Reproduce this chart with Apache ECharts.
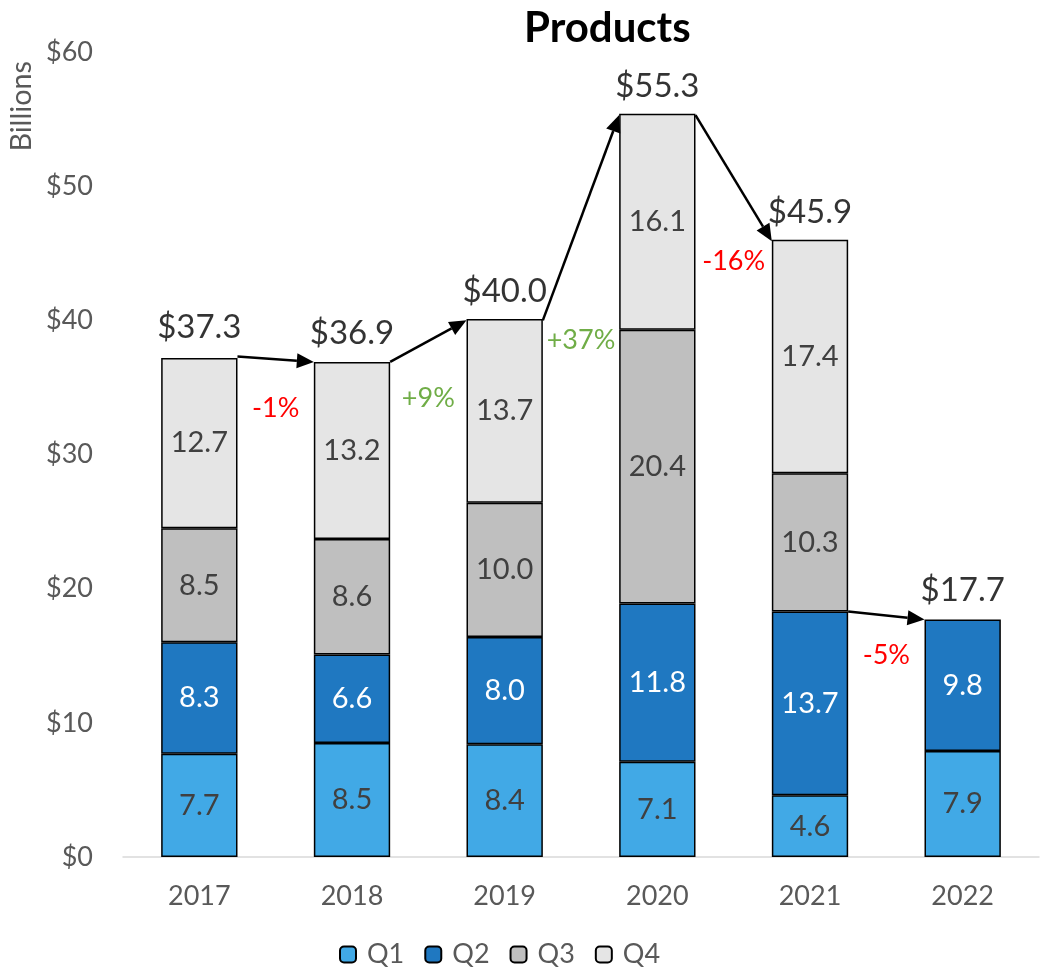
<!DOCTYPE html>
<html>
<head>
<meta charset="utf-8">
<script src="https://cdn.jsdelivr.net/npm/echarts@6/dist/echarts.min.js"></script>
<style>
  html, body { margin: 0; padding: 0; background: #fff; }
  #chart { width: 1041px; height: 975px; }
</style>
</head>
<body>
<div id="chart"></div>
<script>
const years = ['2017', '2018', '2019', '2020', '2021', '2022'];
const q1 = [7.7, 8.5, 8.4, 7.1, 4.6, 7.9];
const q2 = [8.3, 6.6, 8.0, 11.8, 13.7, 9.8];
const q3 = [8.5, 8.6, 10.0, 20.4, 10.3, null];
const q4 = [12.7, 13.2, 13.7, 16.1, 17.4, null];
const totals = [37.3, 36.9, 40.0, 55.3, 45.9, 17.7];

// arrows between bars: start level, end level, change label
const arrowFrom = [37.3, 36.9, 40.0, 55.3, 18.3];
const arrowTo = [36.9, 40.0, 55.3, 45.9, 17.7];
const changes = ['-1%', '+9%', '+37%', '-16%', '-5%'];
// vertical offset (px) of each change label below the lower arrow end
const changeDy = [46, 36, 20, 20, 36];

const FONT = 'Lato, "Liberation Sans", sans-serif';
const GRAY = '#595959';

const segLabel = (color) => ({
  show: true,
  position: 'inside',
  color: color,
  fontSize: 29,
  fontFamily: FONT,
  formatter: p => p.value == null ? '' : p.value.toFixed(1)
});

const barSeries = (name, data, color, labelColor) => ({
  name: name,
  type: 'bar',
  stack: 'total',
  barWidth: '50%',
  data: data,
  itemStyle: { color: color, borderColor: '#000', borderWidth: 1.5 },
  label: segLabel(labelColor)
});

const arrowData = arrowFrom.map((v, i) => [i, v, arrowTo[i]]);

const chart = echarts.init(document.getElementById('chart'));

chart.setOption({
  animation: false,
  textStyle: { fontFamily: FONT },
  title: {
    text: 'Products',
    left: 519,
    top: 2,
    textStyle: { fontSize: 42, fontWeight: 'bold', color: '#000', fontFamily: FONT }
  },
  legend: {
    data: ['Q1', 'Q2', 'Q3', 'Q4'],
    bottom: 2,
    left: 334,
    itemWidth: 16,
    itemHeight: 16,
    itemGap: 20,
    textStyle: { fontSize: 27, color: GRAY, fontFamily: FONT, padding: [0, 0, 0, 6] }
  },
  grid: { left: 123, right: 2, top: 52, bottom: 118 },
  graphic: [{
    type: 'text',
    left: 7,
    top: 61,
    rotation: Math.PI / 2,
    scaleX: 2.4,
    scaleY: 2.4,
    style: { text: 'Billions', fontSize: 12, fontFamily: FONT, fill: GRAY }
  }],
  xAxis: {
    type: 'category',
    data: years,
    axisTick: { show: false },
    axisLine: { lineStyle: { color: '#d9d9d9', width: 1.5 } },
    axisLabel: { fontSize: 27, color: GRAY, margin: 26, fontFamily: FONT }
  },
  yAxis: {
    type: 'value',
    min: 0,
    max: 60,
    interval: 10,
    splitLine: { show: false },
    axisLine: { show: false },
    axisLabel: { fontSize: 27, color: GRAY, margin: 30, fontFamily: FONT, formatter: v => '$' + v }
  },
  series: [
    barSeries('Q1', q1, '#41a9e6', '#404040'),
    barSeries('Q2', q2, '#1f78c1', '#ffffff'),
    barSeries('Q3', q3, '#bfbfbf', '#404040'),
    barSeries('Q4', q4, '#e5e5e5', '#404040'),
    {
      name: 'Total',
      type: 'scatter',
      data: totals,
      symbolSize: 1,
      itemStyle: { color: 'transparent' },
      label: {
        show: true,
        position: 'top',
        distance: 12,
        color: '#000',
        fontSize: 33,
        fontFamily: FONT,
        formatter: p => '$' + p.value.toFixed(1)
      },
      z: 5
    },
    {
      name: 'Change',
      type: 'custom',
      data: arrowData,
      z: 10,
      renderItem: (params, api) => {
        const i = api.value(0);
        const half = api.size([1, 0])[0] / 4;
        const a = api.coord([i, api.value(1)]);
        const b = api.coord([i + 1, api.value(2)]);
        const x1 = a[0] + half, y1 = a[1];
        const x2 = b[0] - half, y2 = b[1];
        const ang = Math.atan2(y2 - y1, x2 - x1);
        const L = 17, W = 7.5;
        const bx = x2 - L * Math.cos(ang), by = y2 - L * Math.sin(ang);
        const nx = -Math.sin(ang) * W, ny = Math.cos(ang) * W;
        const txt = changes[params.dataIndex];
        const neg = txt.charAt(0) === '-';
        return {
          type: 'group',
          children: [
            {
              type: 'line',
              shape: { x1: x1, y1: y1, x2: bx, y2: by },
              style: { stroke: '#000', lineWidth: 2.5 }
            },
            {
              type: 'polygon',
              shape: { points: [[x2, y2], [bx + nx, by + ny], [bx - nx, by - ny]] },
              style: { fill: '#000' }
            },
            {
              type: 'text',
              x: (x1 + x2) / 2,
              y: Math.max(y1, y2) + changeDy[params.dataIndex],
              style: {
                text: txt,
                fill: neg ? '#ff0000' : '#70ad47',
                fontSize: 27,
                fontFamily: FONT,
                align: 'center',
                verticalAlign: 'middle'
              }
            }
          ]
        };
      }
    }
  ]
});
</script>
</body>
</html>
